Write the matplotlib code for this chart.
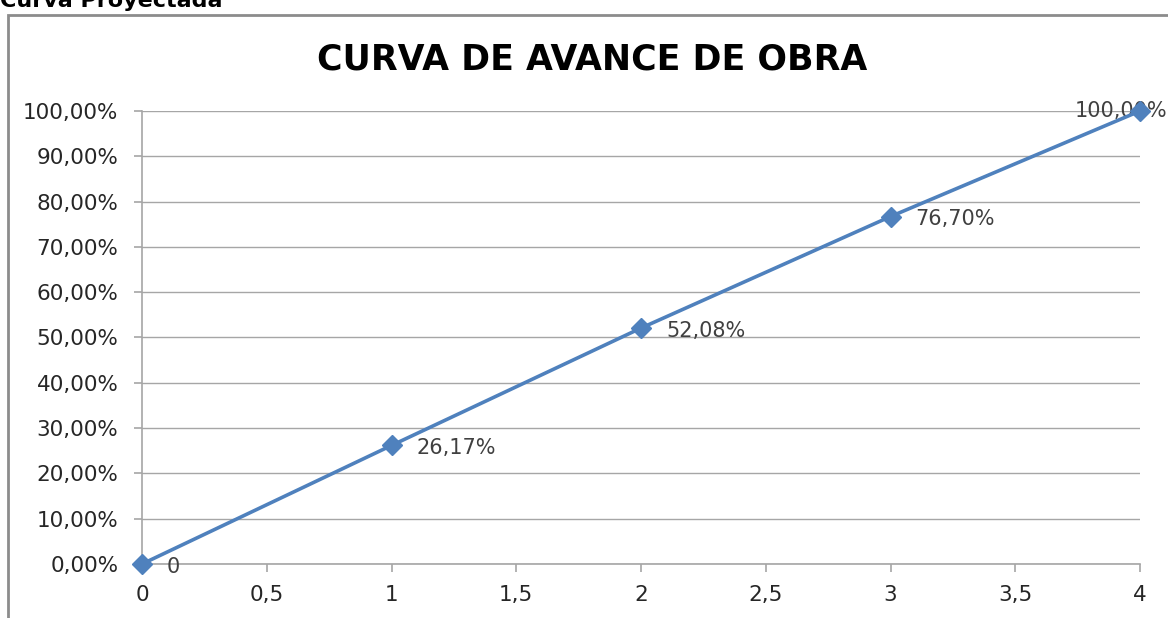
import matplotlib
matplotlib.use("Agg")
import matplotlib.pyplot as plt
from matplotlib.patches import Rectangle
from matplotlib.ticker import FuncFormatter, MultipleLocator

# datos de la curva
periodos = [0, 1, 2, 3, 4]
avance = [0.0, 0.2617, 0.5208, 0.7670, 1.0]
etiquetas = ["0", "26,17%", "52,08%", "76,70%", "100,00%"]

azul = "#4F81BD"
gris = "#a6a6a6"

fig = plt.figure(figsize=(11.68, 6.18), dpi=100)
ax = fig.add_axes([142 / 1168, 1 - 564 / 618, (1140 - 142) / 1168, (564 - 111) / 618])

# marco del grafico (cortado por la imagen)
fig.patches.append(Rectangle((8 / 1168, -0.1), 1.2, 1 - 15 / 618 + 0.1,
                             transform=fig.transFigure, fill=False,
                             edgecolor="#8c8c8c", linewidth=2))

fig.text(0, 1 - 7 / 618, "Curva Proyectada", fontsize=16, fontweight="bold",
         va="baseline", ha="left", family="DejaVu Sans")
fig.text(592 / 1168, 1 - 60 / 618, "CURVA DE AVANCE DE OBRA", fontsize=25,
         fontweight="bold", ha="center", va="center", family="DejaVu Sans")

ax.plot(periodos, avance, color=azul, linewidth=2.6, marker="D",
        markersize=10, clip_on=False, zorder=5)

for x, y, t in zip(periodos, avance, etiquetas):
    if x == 4:
        ax.annotate(t, (x, y), xytext=(-47, 0), textcoords="offset points",
                    ha="left", va="center", fontsize=15, color="#404040",
                    annotation_clip=False)
    else:
        ax.annotate(t, (x, y), xytext=(18, -2), textcoords="offset points",
                    ha="left", va="center", fontsize=15, color="#404040",
                    annotation_clip=False)

ax.set_xlim(0, 4)
ax.set_ylim(0, 1)
ax.xaxis.set_major_locator(MultipleLocator(0.5))
ax.yaxis.set_major_locator(MultipleLocator(0.1))
ax.xaxis.set_major_formatter(FuncFormatter(lambda v, p: ("%g" % v).replace(".", ",")))
ax.yaxis.set_major_formatter(FuncFormatter(lambda v, p: ("%.2f%%" % (v * 100)).replace(".", ",")))

ax.grid(axis="y", color=gris, linewidth=1)
ax.set_axisbelow(True)
for s in ["top", "right"]:
    ax.spines[s].set_visible(False)
for s in ["left", "bottom"]:
    ax.spines[s].set_color(gris)
    ax.spines[s].set_linewidth(1.2)
ax.tick_params(axis="both", colors=gris, length=6, width=1.2, labelsize=15.5,
               labelcolor="#262626")
ax.tick_params(axis="y", pad=11)
ax.tick_params(axis="x", pad=9)

fig.savefig("out.png", dpi=100)
